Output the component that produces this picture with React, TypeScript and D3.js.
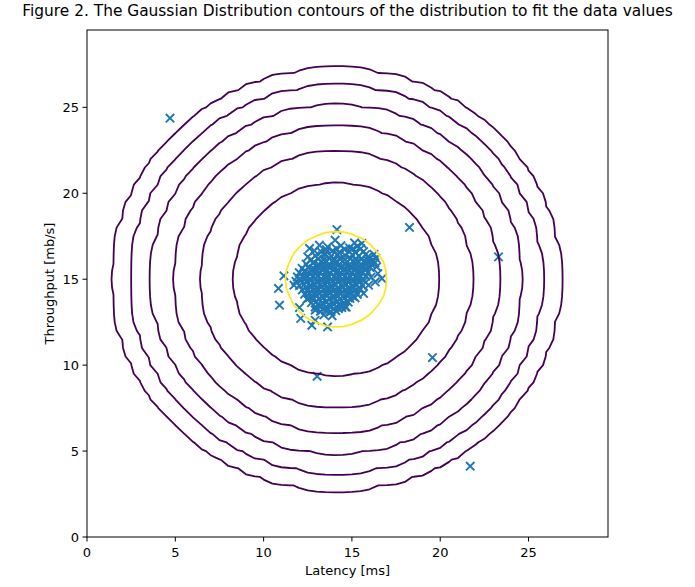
import React from "react";
import * as d3 from "d3";

// Fitted Gaussian parameters (diagonal covariance)
const mu: [number, number] = [14.1123, 14.9977];
const sigma2: [number, number] = [1.8326, 1.7097];

// Contour levels 10^(-20:3:0)
const levels = [1e-20, 1e-17, 1e-14, 1e-11, 1e-8, 1e-5, 1e-2];

// Evaluation grid 0:0.5:35
const gridStep = 0.5;
const gridMax = 35;

const xTicks = [0, 5, 10, 15, 20, 25];
const yTicks = [0, 5, 10, 15, 20, 25];

const title = "Figure 2. The Gaussian Distribution contours of the distribution to fit the data values";
const xLabel = "Latency [ms]";
const yLabel = "Throughput [mb/s]";

// Observed data [latency, throughput]
const corePoints: [number, number][] = [
  [13.62,16.88],[14.38,16.95],[14.86,16.83],[15.31,16.92],
  [13.27,16.58],[13.91,16.66],[14.27,16.54],[14.83,16.63],[15.18,16.57],[15.66,16.61],
  [12.93,16.37],[13.48,16.42],[13.82,16.35],[14.19,16.44],[14.63,16.38],[15.02,16.41],[15.39,16.36],[15.77,16.43],
  [12.68,16.12],[13.09,16.18],[13.41,16.13],[13.73,16.19],[14.02,16.11],[14.34,16.17],[14.61,16.14],[14.93,16.2],[15.22,16.12],[15.54,16.16],[15.87,16.13],[16.18,16.1],
  [12.41,15.88],[12.79,15.93],[13.12,15.86],[13.38,15.92],[13.71,15.89],[14.04,15.94],[14.29,15.87],[14.62,15.91],[14.88,15.85],[15.19,15.93],[15.51,15.88],[15.83,15.92],[16.09,15.86],
  [12.18,15.63],[12.52,15.68],[12.83,15.62],[13.09,15.67],[13.42,15.64],[13.68,15.69],[14.01,15.61],[14.33,15.66],[14.58,15.63],[14.91,15.68],[15.24,15.62],[15.49,15.67],[15.78,15.64],[16.03,15.69],
  [12.02,15.38],[12.31,15.43],[12.63,15.37],[12.88,15.42],[13.21,15.39],[13.52,15.44],[13.79,15.36],[14.12,15.41],[14.38,15.38],[14.71,15.43],[15.03,15.37],[15.29,15.42],[15.62,15.39],[15.91,15.41],
  [11.91,15.13],[12.22,15.18],[12.48,15.12],[12.81,15.17],[13.08,15.14],[13.42,15.19],[13.69,15.11],[14.01,15.16],[14.32,15.13],[14.59,15.18],[14.92,15.12],[15.21,15.17],[15.48,15.14],[15.79,15.18],[16.08,15.12],
  [11.83,14.88],[12.11,14.93],[12.42,14.87],[12.69,14.92],[13.02,14.89],[13.31,14.94],[13.58,14.86],[13.92,14.91],[14.19,14.88],[14.52,14.93],[14.78,14.87],[15.11,14.92],[15.38,14.89],[15.69,14.91],
  [12.03,14.63],[12.29,14.68],[12.61,14.62],[12.92,14.67],[13.18,14.64],[13.51,14.69],[13.79,14.61],[14.08,14.66],[14.41,14.63],[14.68,14.68],[15.02,14.62],[15.28,14.67],[15.61,14.64],
  [12.19,14.38],[12.52,14.43],[12.78,14.37],[13.11,14.42],[13.38,14.39],[13.71,14.44],[13.98,14.36],[14.31,14.41],[14.58,14.38],[14.91,14.43],[15.18,14.37],[15.49,14.42],
  [12.32,14.13],[12.61,14.18],[12.92,14.12],[13.19,14.17],[13.52,14.14],[13.79,14.19],[14.12,14.11],[14.38,14.16],[14.71,14.13],[14.98,14.18],[15.31,14.12],
  [12.51,13.88],[12.79,13.93],[13.12,13.87],[13.38,13.92],[13.71,13.89],[13.98,13.94],[14.31,13.86],[14.58,13.91],[14.89,13.88],[15.18,13.92],
  [12.71,13.63],[12.98,13.68],[13.31,13.62],[13.58,13.67],[13.91,13.64],[14.18,13.69],[14.51,13.61],[14.79,13.66],
  [12.92,13.38],[13.19,13.43],[13.52,13.37],[13.79,13.42],[14.11,13.39],[14.38,13.44],[14.68,13.37],
  [13.22,13.13],[13.51,13.18],[13.82,13.12],[14.09,13.17],
  [13.41,12.92],[13.88,12.87],
  [13.55,16.72],[14.12,16.78],[14.6,16.74],[15.05,16.76],[15.5,16.78],
  [12.85,16.0],[13.25,16.03],[13.55,16.01],[13.9,16.04],[14.18,16.0],[14.47,16.03],[14.75,16.01],[15.05,16.04],[15.36,16.0],[15.68,16.02],[15.98,16.0],
  [12.35,15.5],[12.68,15.53],[12.98,15.51],[13.3,15.54],[13.6,15.5],[13.92,15.53],[14.22,15.51],[14.5,15.54],[14.82,15.5],[15.12,15.53],[15.41,15.51],[15.72,15.54],
  [12.05,15.02],[12.35,15.05],[12.63,15.01],[12.95,15.04],[13.25,15.0],[13.55,15.03],[13.84,15.01],[14.15,15.04],[14.45,15.0],[14.75,15.03],[15.05,15.01],[15.33,15.04],[15.6,15.0],
  [12.4,14.52],[12.7,14.55],[13.0,14.51],[13.28,14.54],[13.6,14.5],[13.9,14.53],[14.2,14.51],[14.5,14.54],[14.8,14.5],[15.1,14.53],[15.4,14.51],
  [12.7,14.02],[13.0,14.05],[13.3,14.01],[13.6,14.04],[13.9,14.0],[14.2,14.03],[14.5,14.01],[14.8,14.04],[15.05,14.0],
  [13.05,13.52],[13.38,13.55],[13.68,13.51],[13.98,13.54],[14.28,13.5],[14.55,13.53],
  [16.35,16.22],[16.4,15.72],[16.25,16.45],[16.3,15.95],
];

const edgePoints: [number, number][] = [
  [14.15,17.89],[12.6,16.79],[13.16,16.98],[14.05,17.27],[15.15,17.11],[15.56,17.08],
  [12.88,16.65],[12.5,16.3],[13.48,16.5],[15.9,16.3],[16.13,16.0],[16.47,15.33],
  [16.7,15.04],[16.32,14.84],[15.94,14.65],[15.66,14.17],[11.15,15.2],[10.84,14.46],
  [10.9,13.49],[11.72,14.65],[12.03,13.35],[12.1,12.72],[12.92,12.61],[12.92,13.2],
  [12.6,13.93],[12.45,13.84],[13.62,12.22],[12.73,12.32],[13.77,13.1],[14.43,13.35],
  [14.24,13.29],[14.62,13.39],[12.97,13.24],
];

const outlierPoints: [number, number][] = [
  [4.7,24.37],[18.26,18.01],[23.3,16.3],[19.56,10.44],[21.7,4.12],[13.03,9.35],
];

const W = 695;
const H = 587;
const left = 87, right = 608, top = 30, bottom = 537;
const domainMax = 29.5;

function gauss(x: number, y: number) {
  const norm = 1 / (2 * Math.PI * Math.sqrt(sigma2[0] * sigma2[1]));
  const dx = x - mu[0];
  const dy = y - mu[1];
  return norm * Math.exp(-0.5 * (dx * dx / sigma2[0] + dy * dy / sigma2[1]));
}

export default function App() {
  const xs = d3.scaleLinear().domain([0, domainMax]).range([left, right]);
  const ys = d3.scaleLinear().domain([0, domainMax]).range([bottom, top]);

  const n = Math.round(gridMax / gridStep) + 1;
  const values: number[] = new Array(n * n);
  for (let j = 0; j < n; j++) {
    for (let i = 0; i < n; i++) {
      values[j * n + i] = gauss(i * gridStep, j * gridStep);
    }
  }
  const gen = d3.contours().size([n, n]).smooth(true);
  const color = d3.scaleSequential(d3.interpolateViridis).domain([levels[0], levels[levels.length - 1]]);

  const contourPaths = levels.map((lv) => {
    const c = gen.contour(values, lv);
    let d = "";
    c.coordinates.forEach((poly) => {
      poly.forEach((ring) => {
        ring.forEach((p, k) => {
          const px = xs((p[0] - 0.5) * gridStep);
          const py = ys((p[1] - 0.5) * gridStep);
          d += (k === 0 ? "M" : "L") + px.toFixed(2) + "," + py.toFixed(2);
        });
        d += "Z";
      });
    });
    return { lv, d };
  });

  const allPoints = [...corePoints, ...edgePoints, ...outlierPoints];
  const m = 4.2;
  const font = "'DejaVu Sans', sans-serif";

  return (
    <svg width={W} height={H} style={{ position: "absolute", left: 0, top: 0, background: "#fff" }} xmlns="http://www.w3.org/2000/svg">
      <rect x={0} y={0} width={W} height={H} fill="#fff" />
      <defs>
        <clipPath id="plotclip">
          <rect x={left} y={top} width={right - left} height={bottom - top} />
        </clipPath>
      </defs>
      <g clipPath="url(#plotclip)">
        <g stroke="#1f77b4" strokeWidth={1.9} fill="none">
          {allPoints.map((p, i) => {
            const cx = xs(p[0]);
            const cy = ys(p[1]);
            return (
              <path key={i} d={`M${cx - m},${cy - m}L${cx + m},${cy + m}M${cx - m},${cy + m}L${cx + m},${cy - m}`} />
            );
          })}
        </g>
        {contourPaths.map((c, i) => (
          <path key={i} d={c.d} fill="none" stroke={color(c.lv)} strokeWidth={1.8} strokeLinejoin="round" />
        ))}
      </g>
      <rect x={left} y={top} width={right - left} height={bottom - top} fill="none" stroke="#000" strokeWidth={1} />
      {xTicks.map((t) => (
        <g key={"x" + t}>
          <line x1={xs(t)} x2={xs(t)} y1={bottom} y2={bottom + 4.5} stroke="#000" strokeWidth={1} />
          <text x={xs(t)} y={bottom + 19.5} fontFamily={font} fontSize={13} textAnchor="middle" fill="#000">{t}</text>
        </g>
      ))}
      {yTicks.map((t) => (
        <g key={"y" + t}>
          <line x1={left - 4.5} x2={left} y1={ys(t)} y2={ys(t)} stroke="#000" strokeWidth={1} />
          <text x={left - 8} y={ys(t)} dy="0.36em" fontFamily={font} fontSize={13} textAnchor="end" fill="#000">{t}</text>
        </g>
      ))}
      <text x={(left + right) / 2} y={575} fontFamily={font} fontSize={13} textAnchor="middle" fill="#000">{xLabel}</text>
      <text transform={`translate(54,${(top + bottom) / 2}) rotate(-90)`} fontFamily={font} fontSize={13} textAnchor="middle" fill="#000">{yLabel}</text>
      <text x={(left + right) / 2} y={15.5} fontFamily={font} fontSize={15.4} textAnchor="middle" fill="#000">{title}</text>
    </svg>
  );
}
